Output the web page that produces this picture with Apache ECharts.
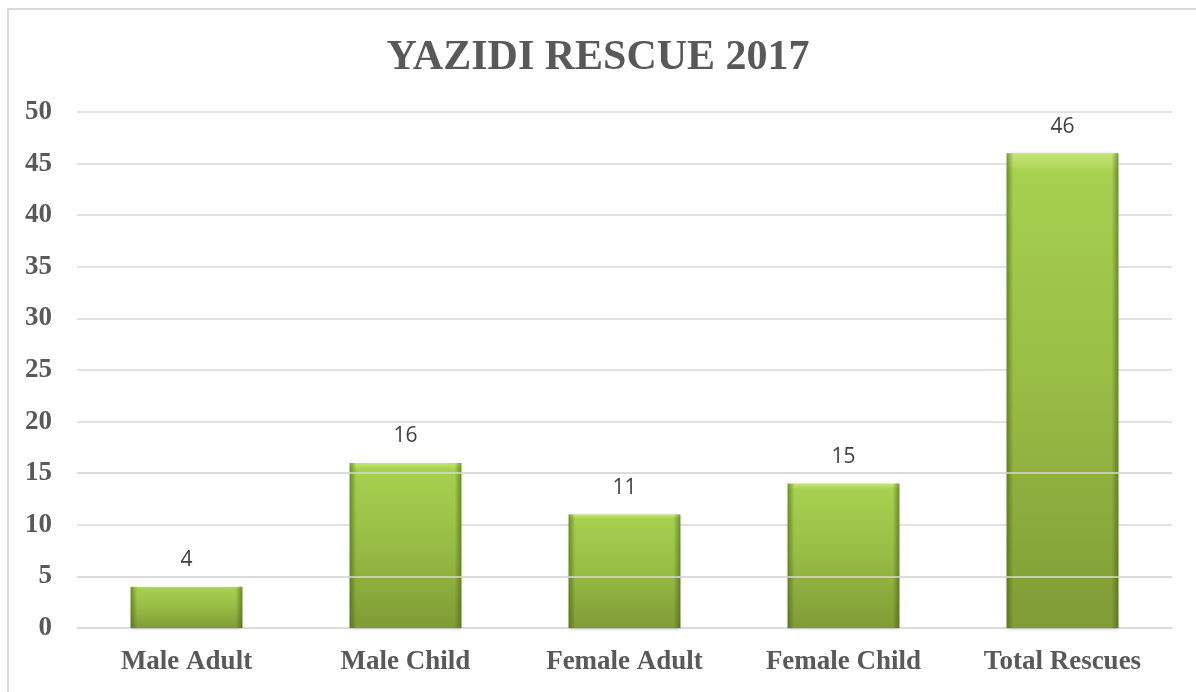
<!DOCTYPE html>
<html>
<head>
<meta charset="utf-8">
<script src="https://cdn.jsdelivr.net/npm/echarts@6/dist/echarts.min.js"></script>
<style>
  html, body { margin: 0; padding: 0; overflow: hidden; background: #fff; }
  #frame { position: absolute; left: 7px; top: 8px; width: 1210px; height: 700px; border: 2px solid #d9d9d9; box-sizing: border-box; }
  #chart { position: absolute; left: 0; top: 0; width: 1196px; height: 692px; }
</style>
</head>
<body>
<div id="frame"></div>
<div id="chart"></div>
<script>
var categories = ['Male Adult', 'Male Child', 'Female Adult', 'Female Child', 'Total Rescues'];
var rescues = [4, 16, 11, 14, 46];
// labels as printed on the original chart
var valueLabels = ['4', '16', '11', '15', '46'];
var yTicks = { min: 0, max: 50, interval: 5 };

var myChart = echarts.init(document.getElementById('chart'));

var serif = '"Liberation Serif", "DejaVu Serif", serif';

var option = {
    title: {
        text: 'YAZIDI RESCUE 2017',
        left: 'center',
        top: 32,
        textStyle: { fontFamily: serif, fontWeight: 'bold', fontSize: 42, color: '#595959' }
    },
    grid: { left: 77, right: 24, top: 112, bottom: 64 },
    xAxis: {
        type: 'category',
        data: categories,
        axisLine: { show: true, lineStyle: { color: '#d9d9d9', width: 1.5 } },
        axisTick: { show: false },
        axisLabel: { fontFamily: serif, fontWeight: 'bold', fontSize: 27, color: '#595959', margin: 21 }
    },
    yAxis: {
        type: 'value',
        min: yTicks.min,
        max: yTicks.max,
        interval: yTicks.interval,
        axisLine: { show: false },
        axisTick: { show: false },
        splitLine: { lineStyle: { color: '#d9d9d9', width: 1.5 } },
        axisLabel: { fontFamily: serif, fontWeight: 'bold', fontSize: 27, color: '#595959', margin: 25 }
    },
    series: [
        {
            type: 'bar',
            data: rescues,
            barWidth: '51%',
            itemStyle: {
                color: new echarts.graphic.LinearGradient(0, 0, 0, 1, [
                    { offset: 0, color: '#c6e47a' },
                    { offset: 0.025, color: '#b3d95c' },
                    { offset: 0.04, color: '#a6d04f' },
                    { offset: 0.5, color: '#98bc45' },
                    { offset: 1, color: '#7f9c35' }
                ]),
                shadowColor: 'rgba(0,0,0,0.25)',
                shadowBlur: 3,
                shadowOffsetY: 1
            },
            label: {
                show: true,
                position: 'top',
                distance: 16,
                fontFamily: '"Open Sans", "Liberation Sans", sans-serif',
                fontSize: 21,
                color: '#404040',
                formatter: function (p) { return valueLabels[p.dataIndex]; }
            }
        },
        {
            type: 'bar',
            data: rescues,
            barWidth: '51%',
            barGap: '-100%',
            silent: true,
            itemStyle: {
                color: new echarts.graphic.LinearGradient(0, 0, 1, 0, [
                    { offset: 0, color: 'rgba(60,85,10,0.55)' },
                    { offset: 0.06, color: 'rgba(60,85,10,0.0)' },
                    { offset: 0.94, color: 'rgba(60,85,10,0.0)' },
                    { offset: 1, color: 'rgba(60,85,10,0.55)' }
                ])
            },
            markLine: {
                silent: true,
                symbol: 'none',
                label: { show: false },
                lineStyle: { color: '#d9d9d9', width: 1.5, type: 'solid' },
                data: [{ yAxis: 5 }, { yAxis: 15 }]
            }
        }
    ]
};

myChart.setOption(option);
</script>
</body>
</html>
